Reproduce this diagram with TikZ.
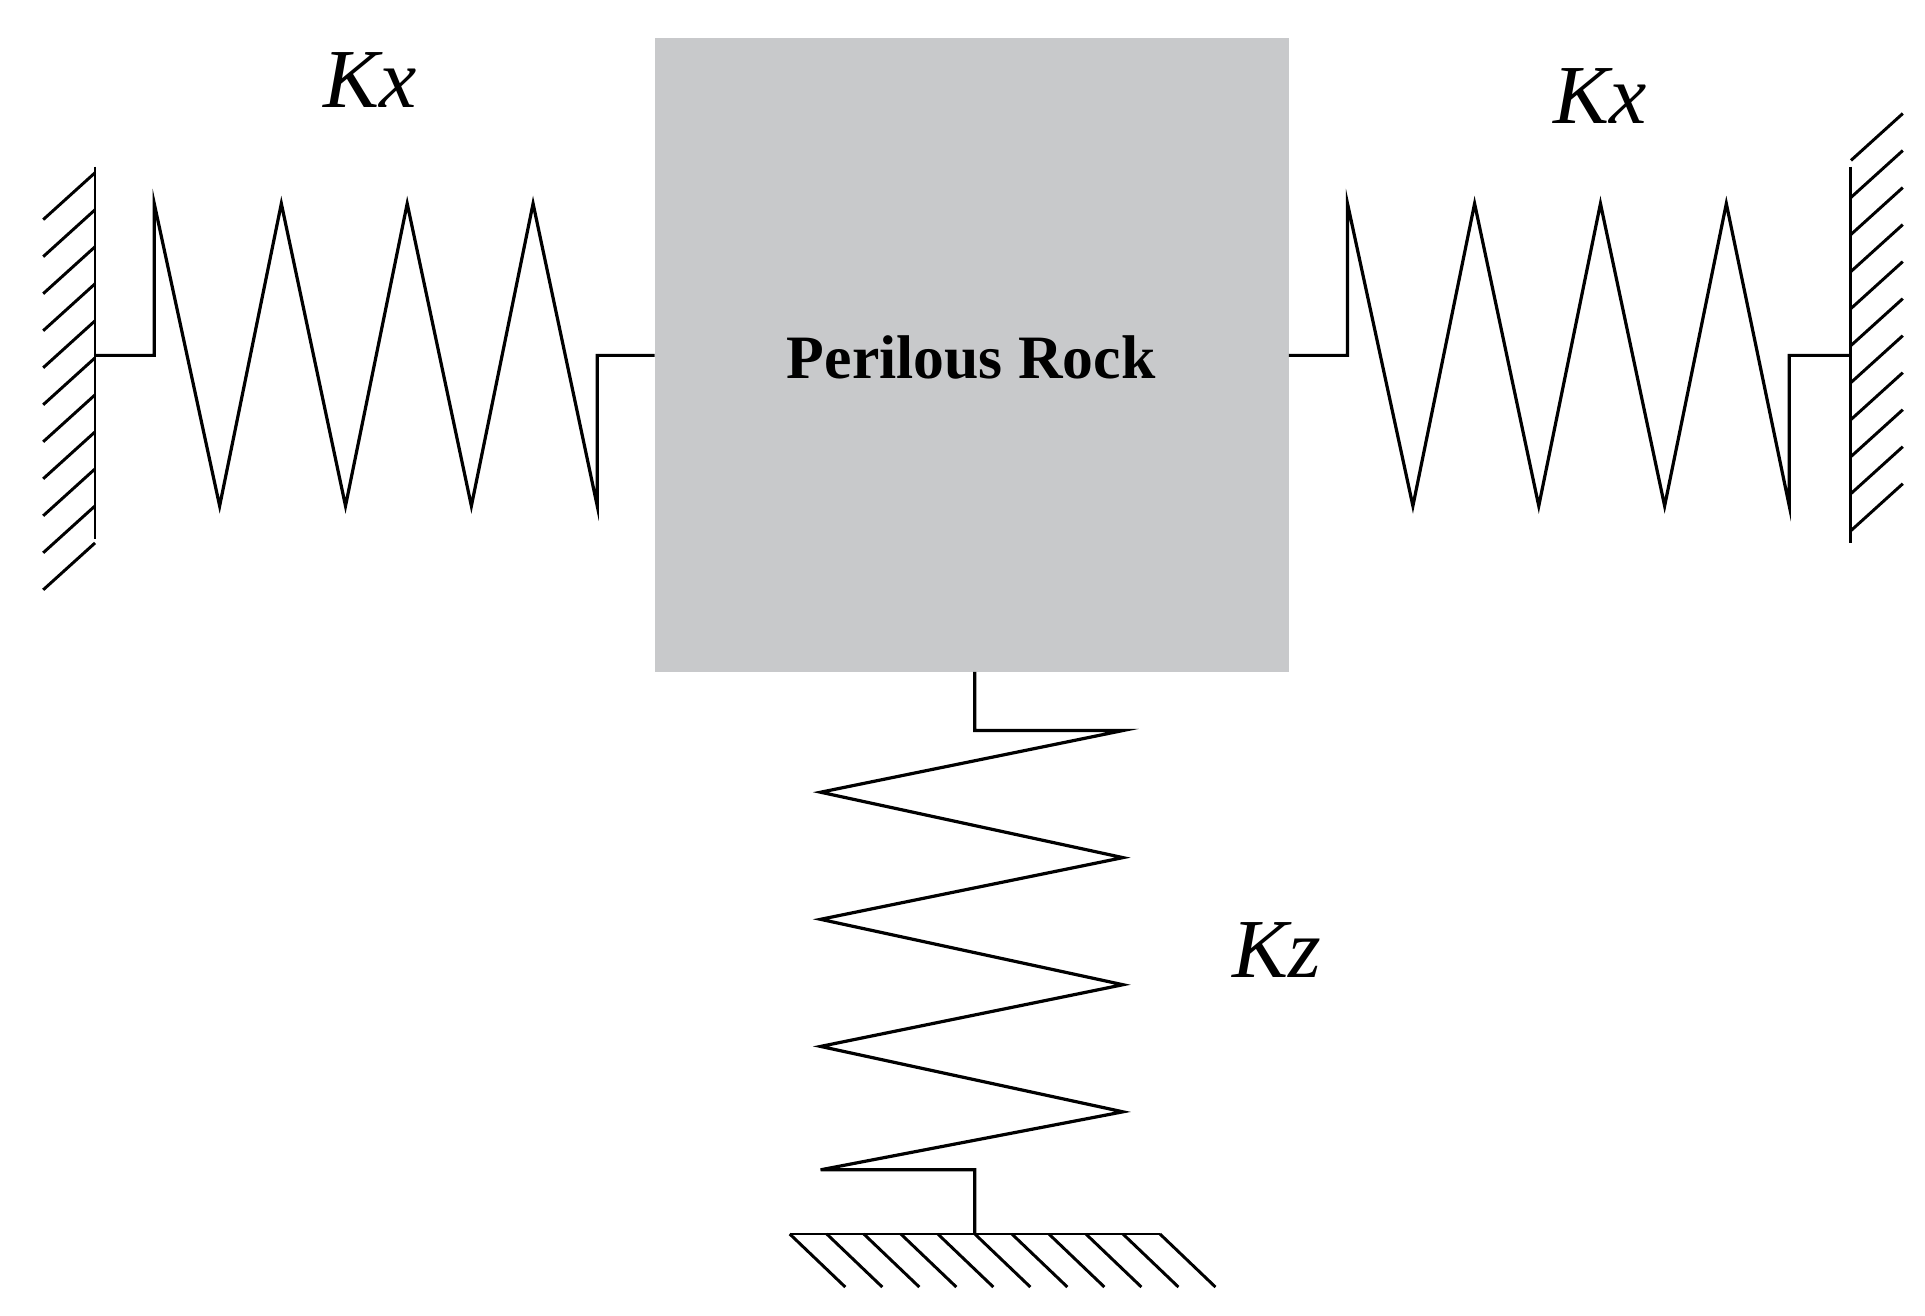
\documentclass[tikz,border=0pt]{standalone}
\usepackage{fontspec}
\setmainfont{Liberation Serif}
\definecolor{rockgray}{RGB}{200,201,203}
\tikzset{
  spring/.style={line width=1.3pt,line join=miter},
  hatch/.style={line width=1.2pt},
  klabel/.style={font=\fontsize{34}{38}\selectfont\itshape}
}
\begin{document}
\begin{tikzpicture}[x=0.5pt,y=-0.5pt]
  \useasboundingbox (0,0) rectangle (1560,1066);

  % rock
  \node[fill=rockgray,minimum width=257pt,minimum height=257pt,inner sep=0pt,outer sep=0pt] (rock) at (787.5,287.5) {};
  \node[font=\fontsize{25}{30}\selectfont\bfseries] (rocklabel) at (787,290) {Perilous Rock};

  % left wall
  \coordinate (lw) at (77,288);
  \draw[hatch] (77,135) -- (77,437);
  \foreach \y in {140,170,...,450}
    \draw[hatch] (77,\y) -- (35,\y+38);

  % left spring
  \draw[spring] (lw) -- (125,288) -- (125,165)
    \foreach \x in {0,1,2} { -- (178+102*\x,410) -- ++(50,-245) }
    -- (484,410) -- (484,288) -- (rock.west |- lw);
  \node[klabel] (kxl) at (300,65) {Kx};

  % right wall
  \coordinate (rw) at (1500,288);
  \draw[hatch] (1500,135) -- (1500,440);
  \foreach \y in {130,160,...,440}
    \draw[hatch] (1500,\y) -- (1542,\y-38);

  % right spring
  \draw[spring] (rock.east |- rw) -- (1092,288) -- (1092,165)
    \foreach \x in {0,1,2} { -- (1145+102*\x,410) -- ++(50,-245) }
    -- (1450,410) -- (1450,288) -- (rw);
  \node[klabel] (kxr) at (1297,78) {Kx};

  % bottom spring
  \coordinate (gnd) at (790,1000);
  \draw[spring] (rock.south -| gnd) -- (790,592) -- (910,592)
    \foreach \y in {0,1,2} { -- (665,642+103*\y) -- ++(245,53) }
    -- (665,948) -- (790,948) -- (gnd);
  \node[klabel] (kz) at (1035,770) {Kz};

  % ground
  \draw[hatch] (640,1000) -- (940,1000);
  \foreach \x in {640,670,...,940}
    \draw[hatch] (\x,1000) -- (\x+45,1043);
\end{tikzpicture}
\end{document}
